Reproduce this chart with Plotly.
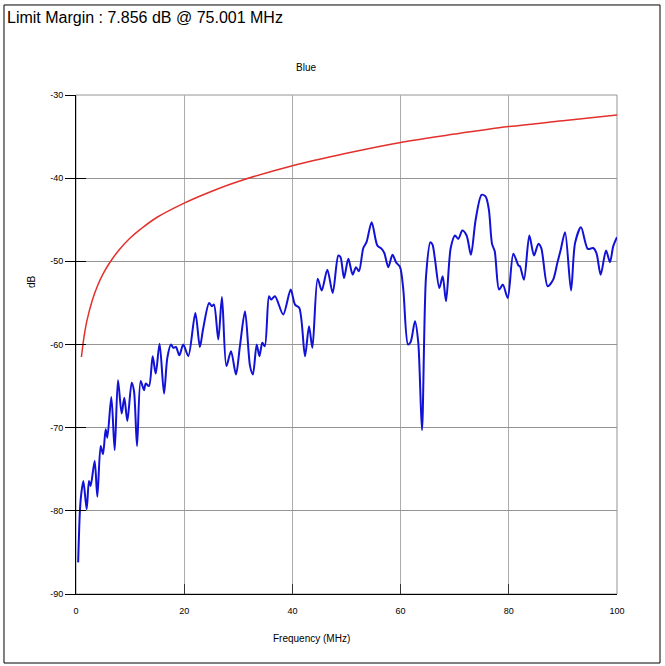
import plotly.graph_objects as go

# ---- data ----
freq_blue = [0.4, 0.74, 1.0, 1.36, 1.97, 2.4, 2.7, 3.45, 3.94, 4.56, 4.99, 5.48, 5.79,
             6.53, 7.15, 7.76, 8.44, 8.93, 9.49, 10.29, 10.72, 11.28, 11.95, 12.57, 12.88,
             13.49, 14.17, 14.73, 15.45, 16.27, 16.88, 17.56, 17.99, 18.48, 19.1, 19.83,
             20.76, 22.06, 22.9, 23.5, 24.6, 25.1, 25.5, 26.3, 26.98, 27.8, 28.65, 29.57,
             30.3, 31.24, 32.17, 32.7, 33.4, 33.9, 34.44, 34.9, 35.67, 36.04, 36.78, 38.3,
             39.68, 40.48, 41.28, 42.33, 43.07, 43.69, 44.67, 45.42, 46.46, 47.45, 48.49,
             48.9, 49.54, 50.34, 51.14, 51.76, 52.3, 53.11, 53.7, 54.65, 55.7, 56.5, 56.99,
             57.73, 58.5, 59.15, 59.9, 60.5, 61.37, 61.86, 62.66, 63.27, 63.95, 64.7, 65.5,
             65.9, 66.36, 67.16, 67.78, 68.39, 69.26, 70.06, 70.67, 71.41, 72.2, 73.0, 73.87,
             74.97, 75.7, 76.3, 76.9, 77.4, 78.2, 78.9, 79.8, 80.84, 81.8, 82.07, 82.8, 83.8,
             84.66, 85.46, 86.0, 87.19, 88.2, 88.97, 89.6, 90.4, 91.5, 92.25, 93.35, 94.6,
             95.6, 96.2, 96.98, 97.97, 98.7, 99.3, 100.0]
level_blue = [-86.2, -79.8, -77.8, -76.4, -79.8, -76.4, -77.0, -74.0, -78.3, -72.2, -73.2, -70.2, -71.2,
              -66.3, -72.7, -64.3, -68.3, -66.4, -69.2, -64.6, -65.6, -72.2, -64.4, -65.5, -64.7,
              -65.0, -61.4, -63.5, -59.9, -65.9, -61.6, -60.0, -60.4, -60.3, -61.3, -60.0,
              -61.4, -56.2, -60.3, -58.1, -55.0, -55.4, -55.2, -59.4, -54.3, -62.6, -60.8, -63.6,
              -60.2, -56.0, -62.6, -63.6, -60.0, -61.4, -59.8, -60.2, -54.2, -54.6, -54.2, -56.4,
              -53.4, -55.2, -55.6, -61.4, -57.8, -60.4, -52.1, -53.5, -51.0, -53.8, -49.3,
              -49.5, -52.0, -49.7, -51.6, -50.7, -51.2, -48.4, -47.7, -45.3, -48.1, -48.5, -49.0,
              -50.7, -49.2, -50.1, -50.7, -53.4, -60.0, -59.7, -57.2, -59.8, -70.3, -51.8, -47.7,
              -48.0, -49.8, -53.2, -51.8, -54.8, -48.4, -46.9, -47.3, -46.3, -46.9, -49.2, -45.0,
              -42.0, -42.2, -43.7, -47.9, -48.8, -53.4, -52.8, -54.4, -49.1, -50.5, -50.6, -52.2, -46.9,
              -49.3, -47.9, -48.4, -53.0, -52.2, -50.2, -48.6, -46.5, -53.5, -47.8, -45.9, -48.5,
              -48.4, -49.0, -51.6, -48.7, -50.1, -48.2, -47.1]

freq_limit = [1, 1.5, 2, 3, 4, 5, 6.5, 8, 10, 12, 15, 20, 25, 30, 40, 50, 60, 70, 80, 90, 100]
level_limit = [-61.5, -59.0, -57.2, -54.7, -52.9, -51.5, -49.9, -48.6, -47.2, -46.1, -44.7,
               -43.0, -41.6, -40.4, -38.5, -37.0, -35.7, -34.7, -33.8, -33.1, -32.4]

x_ticks = [0, 20, 40, 60, 80, 100]
x_tick_labels = ["0", "20", "40", "60", "80", "100"]
y_ticks = [-90, -80, -70, -60, -50, -40, -30]
y_tick_labels = ["-90", "-80", "-70", "-60", "-50", "-40", "-30"]

title_text = "Limit Margin : 7.856 dB @ 75.001 MHz"
chart_title = "Blue"
x_title = "Frequency (MHz)"
y_title = "dB"

FONT = "Liberation Sans, Arial, sans-serif"

fig = go.Figure()
fig.add_trace(go.Scatter(x=freq_limit, y=level_limit, mode="lines",
                         line=dict(color="#e3302c", width=1.5, shape="spline"),
                         hoverinfo="skip"))
fig.add_trace(go.Scatter(x=freq_blue, y=level_blue, mode="lines",
                         line=dict(color="#1212d6", width=2, shape="spline", smoothing=0.8),
                         hoverinfo="skip"))
# dummy trace for inside-tick overlay axis
fig.add_trace(go.Scatter(x=[None], y=[None], yaxis="y2", mode="lines", hoverinfo="skip"))

fig.update_layout(
    width=665, height=666,
    margin=dict(l=76, r=48, t=95, b=72, autoexpand=False),
    paper_bgcolor="white", plot_bgcolor="white",
    font=dict(family=FONT, size=9, color="black"),
    showlegend=False,
    xaxis=dict(range=[0, 100], tickvals=x_ticks, ticktext=x_tick_labels,
               ticks="inside", ticklen=10, tickcolor="#333333", tickwidth=1,
               showline=True, linecolor="black", linewidth=1,
               showgrid=True, gridcolor="#ababab", gridwidth=1,
               zeroline=False, ticklabelstandoff=8, fixedrange=True),
    yaxis=dict(range=[-90, -30], tickvals=y_ticks, ticktext=y_tick_labels,
               ticks="outside", ticklen=10, tickcolor="black", tickwidth=1,
               showline=True, linecolor="black", linewidth=1,
               showgrid=True, gridcolor="#949494", gridwidth=1,
               zeroline=False, fixedrange=True),
    yaxis2=dict(range=[-90, -30], tickvals=y_ticks, overlaying="y", anchor="x", side="left",
                ticks="inside", ticklen=10, tickcolor="black", tickwidth=1,
                showticklabels=False, showgrid=False, showline=False, zeroline=False,
                fixedrange=True),
)

# plot frame (top/right in grey) and outer border
fig.add_shape(type="rect", xref="x domain", yref="y domain", x0=0, x1=1, y0=0, y1=1,
              line=dict(color="#949494", width=1), layer="below")
fig.add_shape(type="rect", xref="paper", yref="paper",
              x0=-0.1331, x1=1.0795, y0=-0.1383, y1=1.1804,
              line=dict(color="black", width=1))

fig.add_annotation(text=title_text, xref="paper", yref="paper", x=-0.1312, y=1.1563,
                   xanchor="left", yanchor="middle", showarrow=False,
                   font=dict(family=FONT, size=16, color="black"))
fig.add_annotation(text=chart_title, xref="paper", yref="paper", x=0.425, y=1.0561,
                   xanchor="center", yanchor="middle", showarrow=False,
                   font=dict(family=FONT, size=10, color="black"))
fig.add_annotation(text=x_title, xref="paper", yref="paper", x=0.436, y=-0.0882,
                   xanchor="center", yanchor="middle", showarrow=False,
                   font=dict(family=FONT, size=10, color="black"))
fig.add_annotation(text=y_title, xref="paper", yref="paper", x=-0.0832, y=0.627,
                   xanchor="center", yanchor="middle", showarrow=False, textangle=-90,
                   font=dict(family=FONT, size=10, color="black"))

fig.write_html("out.html", config={"displayModeBar": False},
               post_script="document.body.style.margin='0px';")
